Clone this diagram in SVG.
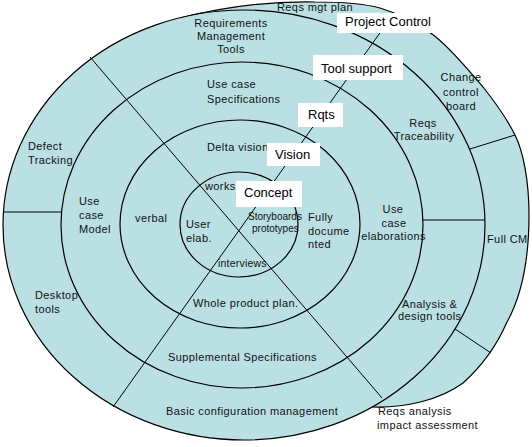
<svg xmlns="http://www.w3.org/2000/svg" width="532" height="447" viewBox="0 0 532 447">
<style>
.fill{fill:#BAE0E3}
.ring{fill:none;stroke:#000;stroke-width:1.2}
.ln{stroke:#000;stroke-width:1;fill:none}
.t{font-family:"Liberation Sans",Arial,sans-serif;font-size:11px;letter-spacing:0.4px;fill:#111}
.s{font-size:10px;letter-spacing:0}
.m{text-anchor:middle}
.box{fill:#fff}
.b{font-family:"Liberation Sans",Arial,sans-serif;font-size:13px;fill:#000}
</style>
<rect width="532" height="447" fill="#fff"/>
<g id="rings">
<path class="fill" d="M180,18 C220,8 270,1 315,2 C345,2 365,4 380,8 C400,14 417,23 432,34 C450,47 468,70 483,87 C495,102 507,119 515,135 C523,151 529,180 529,215 C529,260 522,295 507,322 C497,345 482,366 463,383 C440,400 405,408 372,407 L300,200 Z"/>
<path class="ring" d="M180,18 C220,8 270,1 315,2 C345,2 365,4 380,8 C400,14 417,23 432,34 C450,47 468,70 483,87 C495,102 507,119 515,135 C523,151 529,180 529,215 C529,260 522,295 507,322 C497,345 482,366 463,383 C440,400 405,408 372,407"/>
<ellipse class="fill" cx="244" cy="225" rx="241" ry="215" stroke="#000" stroke-width="1.2"/>
<ellipse class="ring" cx="242" cy="225" rx="181" ry="163"/>
<ellipse class="ring" cx="240" cy="224" rx="120" ry="104"/>
<ellipse class="ring" cx="239" cy="224.5" rx="59" ry="52.5"/>
</g>
<g id="connectors">
<line class="ln" x1="90" y1="57" x2="382" y2="398"/>
<line class="ln" x1="113" y1="407" x2="392" y2="16"/>
<line class="ln" x1="3" y1="212" x2="62" y2="212"/>
<line class="ln" x1="423" y1="220" x2="485" y2="220"/>
<line class="ln" x1="470" y1="149" x2="515" y2="135"/>
<line class="ln" x1="455" y1="329" x2="491" y2="353"/>
</g>
<g id="labels">
<g id="reqs-mgt-plan"><text class="t" x="277" y="10.5">Reqs mgt plan</text></g>
<g id="req-mgmt-tools"><text class="t m" x="231" y="26.5">Requirements</text><text class="t m" x="231" y="39.5">Management</text><text class="t m" x="231" y="53">Tools</text></g>
<g id="use-case-spec"><text class="t" x="207" y="88">Use case</text><text class="t" x="207" y="103">Specifications</text></g>
<g id="delta-vision"><text class="t" x="207" y="150.5">Delta vision</text></g>
<g id="workshops"><text class="t" x="205" y="189.5">worksh</text></g>
<g id="user-elab"><text class="t" x="186" y="228">User</text><text class="t" x="186" y="241.5">elab.</text></g>
<g id="storyboards"><text class="t s" x="248" y="219.5">Storyboards</text><text class="t s" x="252" y="231.5">prototypes</text></g>
<g id="fully-documented"><text class="t" x="308" y="220.5">Fully</text><text class="t" x="308" y="235">docume</text><text class="t" x="308" y="248">nted</text></g>
<g id="interviews"><text class="t" x="218" y="266.5" style="font-size:10.5px;letter-spacing:0.2px">interviews</text></g>
<g id="verbal"><text class="t" x="135" y="221.5">verbal</text></g>
<g id="use-case-model"><text class="t" x="79" y="205">Use</text><text class="t" x="79" y="219">case</text><text class="t" x="79" y="233">Model</text></g>
<g id="defect-tracking"><text class="t" x="28" y="150">Defect</text><text class="t" x="28" y="163.5">Tracking</text></g>
<g id="desktop-tools"><text class="t" x="35" y="298.5">Desktop</text><text class="t" x="35" y="313">tools</text></g>
<g id="change-control"><text class="t m" x="461" y="81">Change</text><text class="t m" x="461" y="96">control</text><text class="t m" x="461" y="110">board</text></g>
<g id="reqs-traceability"><text class="t m" x="423" y="126.5">Reqs</text><text class="t m" x="424" y="140">Traceability</text></g>
<g id="use-case-elab"><text class="t m" x="393" y="213">Use</text><text class="t m" x="394" y="227">case</text><text class="t m" x="393.5" y="240">elaborations</text></g>
<g id="full-cm"><text class="t" x="487" y="243">Full CM</text></g>
<g id="whole-product"><text class="t" x="193" y="307">Whole product plan.</text></g>
<g id="analysis-design"><text class="t" x="402" y="307.5">Analysis &amp;</text><text class="t" x="398" y="320">design tools</text></g>
<g id="supplemental"><text class="t" x="168" y="361">Supplemental Specifications</text></g>
<g id="basic-config"><text class="t" x="166" y="414.5">Basic configuration management</text></g>
<g id="reqs-analysis"><text class="t" x="378" y="414.5">Reqs analysis</text><text class="t" x="377" y="428.5">impact assessment</text></g>
</g>
<g id="project-control"><rect class="box" x="337" y="13" width="96" height="20"/><text class="b" x="345" y="26">Project Control</text></g>
<g id="tool-support"><rect class="box" x="313" y="55" width="90" height="25"/><text class="b" x="321" y="72.6">Tool support</text></g>
<g id="rqts"><rect class="box" x="298" y="103" width="45" height="24"/><text class="b" x="308" y="119.3">Rqts</text></g>
<g id="vision"><rect class="box" x="267" y="143" width="53" height="23"/><text class="b" x="275" y="158.5">Vision</text></g>
<g id="concept"><rect class="box" x="236" y="181" width="66" height="26"/><text class="b" x="244" y="197">Concept</text></g>
</svg>
